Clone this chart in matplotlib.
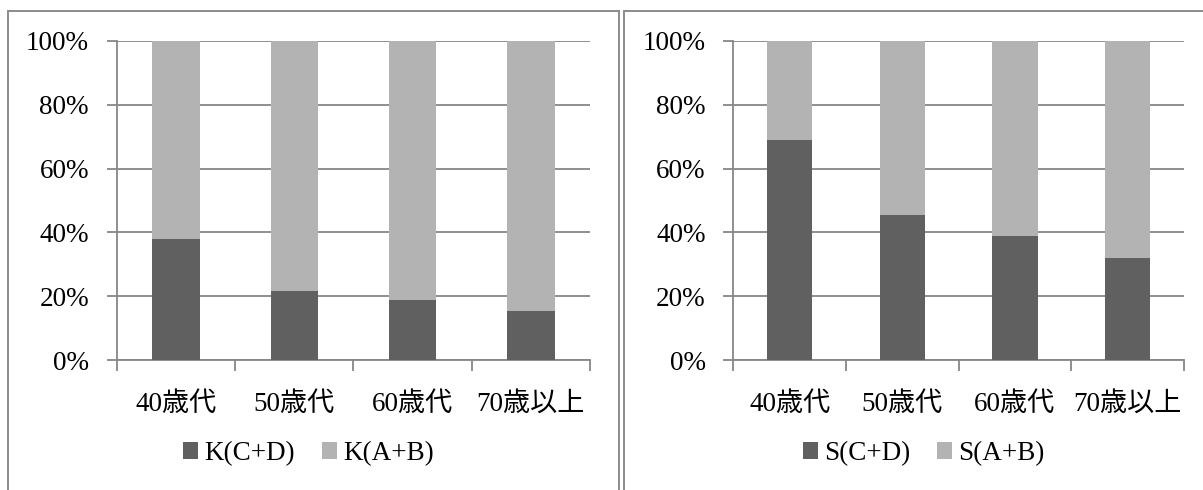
import matplotlib
matplotlib.use("Agg")
import matplotlib.pyplot as plt
from matplotlib.patches import Rectangle
from matplotlib.ticker import FixedLocator, PercentFormatter

# Age groups and shares (%) for each panel
categories = ["40歳代", "50歳代", "60歳代", "70歳以上"]
k_cd = [38.0, 21.6, 18.8, 15.5]
k_ab = [62.0, 78.4, 81.2, 84.5]
s_cd = [69.0, 45.5, 39.0, 32.1]
s_ab = [31.0, 54.5, 61.0, 67.9]
y_ticks = [0, 20, 40, 60, 80, 100]

DARK = "#606060"
LIGHT = "#b3b3b3"
GRID = "#878787"
FONT = ["Liberation Serif", "Noto Sans CJK JP"]
FS = 19.5

plt.rcParams["font.family"] = FONT

W, H = 1203, 490
fig = plt.figure(figsize=(W / 100, H / 100), dpi=100)


def px(x0, y0, x1, y1):
    """Pixel box (top-left origin) -> figure fraction rect."""
    return [x0 / W, 1 - y1 / H, (x1 - x0) / W, (y1 - y0) / H]


# Panel frames
for x0, x1 in [(8, 619), (623.7, 1240)]:
    fig.patches.append(Rectangle((x0 / W, -0.1), (x1 - x0) / W, 1.1 - 11 / H,
                                 transform=fig.transFigure, fill=False,
                                 edgecolor="#8c8c8c", linewidth=1.4))


def panel(rect, lower, upper, names, legend_x):
    ax = fig.add_axes(rect)
    xs = list(range(len(categories)))
    b1 = ax.bar(xs, lower, width=0.4, color=DARK, zorder=3, label=names[0])
    b2 = ax.bar(xs, upper, width=0.4, bottom=lower, color=LIGHT, zorder=3,
                label=names[1])
    ax.set_xlim(-0.5, len(categories) - 0.5)
    ax.set_ylim(0, 100)
    ax.set_yticks(y_ticks)
    ax.yaxis.set_major_formatter(PercentFormatter(decimals=0))
    ax.yaxis.grid(True, color=GRID, linewidth=1.3, zorder=0)
    ax.set_axisbelow(True)
    for side in ("top", "right"):
        ax.spines[side].set_visible(False)
    for side in ("left", "bottom"):
        ax.spines[side].set_color(GRID)
        ax.spines[side].set_linewidth(1.3)
    ax.set_xticks(xs)
    ax.set_xticklabels(categories)
    ax.xaxis.set_minor_locator(FixedLocator([i - 0.5 for i in range(len(categories) + 1)]))
    ax.tick_params(axis="x", which="major", length=0, pad=23, labelsize=FS)
    ax.tick_params(axis="x", which="minor", length=8, width=1.3, color=GRID)
    ax.tick_params(axis="y", length=7, width=1.3, color=GRID, pad=13, labelsize=FS)
    for lbl in ax.get_xticklabels() + ax.get_yticklabels():
        lbl.set_family(FONT)
    fig.legend(handles=[b1, b2], loc="center", ncol=2,
               bbox_to_anchor=(legend_x / W, 1 - 453.5 / H),
               frameon=False, handlelength=0.55, handleheight=0.55,
               handletextpad=0.22, columnspacing=1.0, borderpad=0,
               prop={"family": FONT, "size": FS})
    return ax


panel(px(116.7, 41, 590, 360), k_cd, k_ab, ["K(C+D)", "K(A+B)"], 308.5)
panel(px(733.3, 41, 1184, 360), s_cd, s_ab, ["S(C+D)", "S(A+B)"], 923.5)

fig.savefig("out.png", dpi=100, facecolor="white")
